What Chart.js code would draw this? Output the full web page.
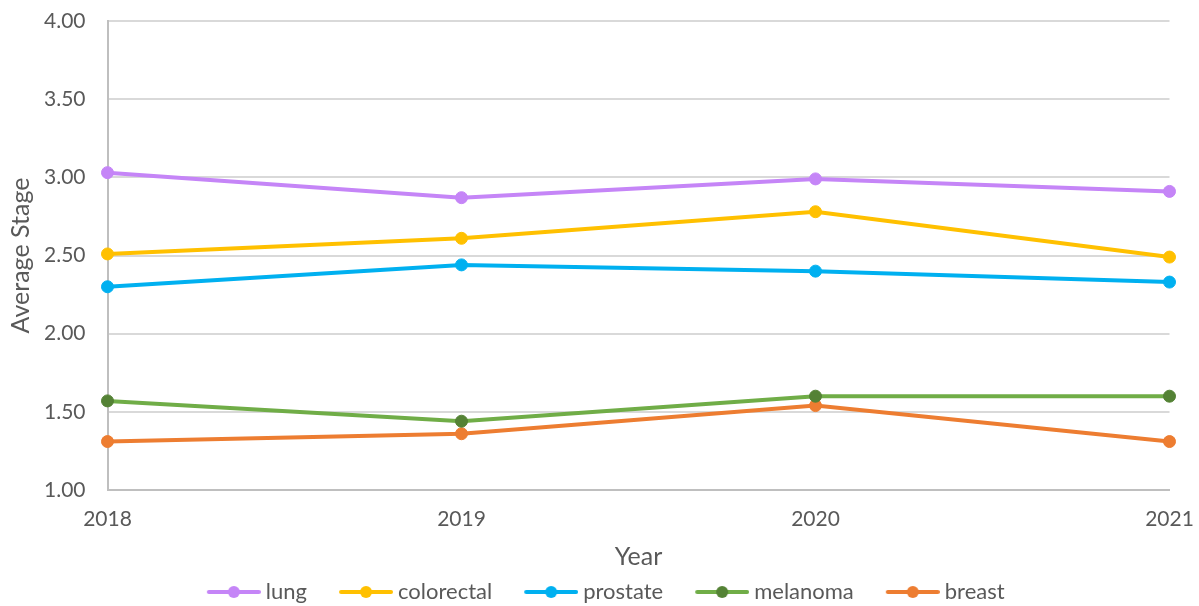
<!DOCTYPE html>
<html>
<head>
<meta charset="utf-8">
<script src="https://cdn.jsdelivr.net/npm/chart.js@4/dist/chart.umd.min.js"></script>
<style>
html,body{margin:0;padding:0;background:#fff;}
#wrap{width:1199px;height:606px;position:relative;}
</style>
</head>
<body>
<div id="wrap"><canvas id="c"></canvas></div>
<script>
const years = ['2018', '2019', '2020', '2021'];
const seriesNames = ['lung', 'colorectal', 'prostate', 'melanoma', 'breast'];
const lung = [3.03, 2.87, 2.99, 2.91];
const colorectal = [2.51, 2.61, 2.78, 2.49];
const prostate = [2.30, 2.44, 2.40, 2.33];
const melanoma = [1.57, 1.44, 1.60, 1.60];
const breast = [1.31, 1.36, 1.54, 1.31];
const yTicks = [1.0, 1.5, 2.0, 2.5, 3.0, 3.5, 4.0];

const lineColors = ['#C585F7', '#FFC000', '#00B0F0', '#70AD47', '#ED7D31'];
const markerColors = ['#C585F7', '#FFC000', '#00B0F0', '#548235', '#ED7D31'];
const values = [lung, colorectal, prostate, melanoma, breast];

const BW = 76, IMGW = 88;
function legendImg(lc, mc) {
  const cv = document.createElement('canvas');
  cv.width = IMGW; cv.height = 16;
  const g = cv.getContext('2d');
  g.strokeStyle = lc; g.lineWidth = 4; g.lineCap = 'round';
  g.beginPath(); g.moveTo(IMGW - 54 + 2, 8); g.lineTo(IMGW - 2, 8); g.stroke();
  g.fillStyle = mc;
  g.beginPath(); g.arc(IMGW - 27, 8, 6, 0, Math.PI * 2); g.fill();
  return cv;
}

const datasets = seriesNames.map((n, i) => ({
  label: n,
  data: values[i],
  borderColor: lineColors[i],
  backgroundColor: markerColors[i],
  pointBackgroundColor: markerColors[i],
  pointBorderColor: markerColors[i],
  borderWidth: 4,
  pointRadius: 6,
  pointBorderWidth: 1,
  tension: 0,
  legendImage: legendImg(lineColors[i], markerColors[i])
}));

const FONT = "Lato, 'Open Sans', 'Liberation Sans', sans-serif";

const shiftLegend = {
  id: 'shiftLegend',
  afterLayout(chart) {
    const l = chart.legend;
    if (l) { l.left += 7; l.right += 7; l.top += 7; l.bottom += 7; }
  }
};

new Chart(document.getElementById('c'), {
  type: 'line',
  data: { labels: years, datasets },
  plugins: [shiftLegend],
  options: {
    responsive: true,
    maintainAspectRatio: false,
    animation: false,
    layout: { padding: { left: 0, right: 29.5, top: 21, bottom: 0 } },
    plugins: {
      tooltip: { enabled: false },
      legend: {
        position: 'bottom',
        labels: {
          usePointStyle: true,
          pointStyleWidth: BW,
          padding: 4,
          color: '#595959',
          font: { family: FONT, size: 22, lineHeight: 0.9 },
          generateLabels(chart) {
            return chart.data.datasets.map((ds, i) => ({
              text: ds.label,
              pointStyle: ds.legendImage,
              fillStyle: ds.backgroundColor,
              strokeStyle: ds.borderColor,
              lineWidth: 0,
              fontColor: '#595959',
              datasetIndex: i,
              hidden: false
            }));
          }
        }
      }
    },
    scales: {
      x: {
        type: 'category',
        offset: false,
        grid: { display: false, drawTicks: false },
        border: { display: true, color: '#BFBFBF', width: 2 },
        ticks: { color: '#595959', font: { family: FONT, size: 21 }, padding: 17, maxRotation: 0 },
        title: { display: true, text: 'Year', color: '#595959', font: { family: FONT, size: 25 }, padding: { top: 0, bottom: -2 } },
        afterFit(s) { s.height = 80; s.paddingLeft = 0; s.paddingRight = 0; }
      },
      y: {
        min: 1, max: 4,
        afterBuildTicks(s) { s.ticks = yTicks.map(v => ({ value: v })); },
        grid: { color: '#D9D9D9', lineWidth: 2, drawTicks: false },
        border: { display: true, color: '#BFBFBF', width: 2 },
        ticks: { color: '#595959', font: { family: FONT, size: 21 }, padding: 22, callback: v => Number(v).toFixed(2) },
        title: { display: true, text: 'Average Stage', color: '#595959', font: { family: FONT, size: 25 }, padding: { top: 6, bottom: 0 } },
        afterFit(s) { s.width = 107.5; s.paddingTop = 0; s.paddingBottom = 0; }
      }
    }
  }
});
</script>
</body>
</html>
